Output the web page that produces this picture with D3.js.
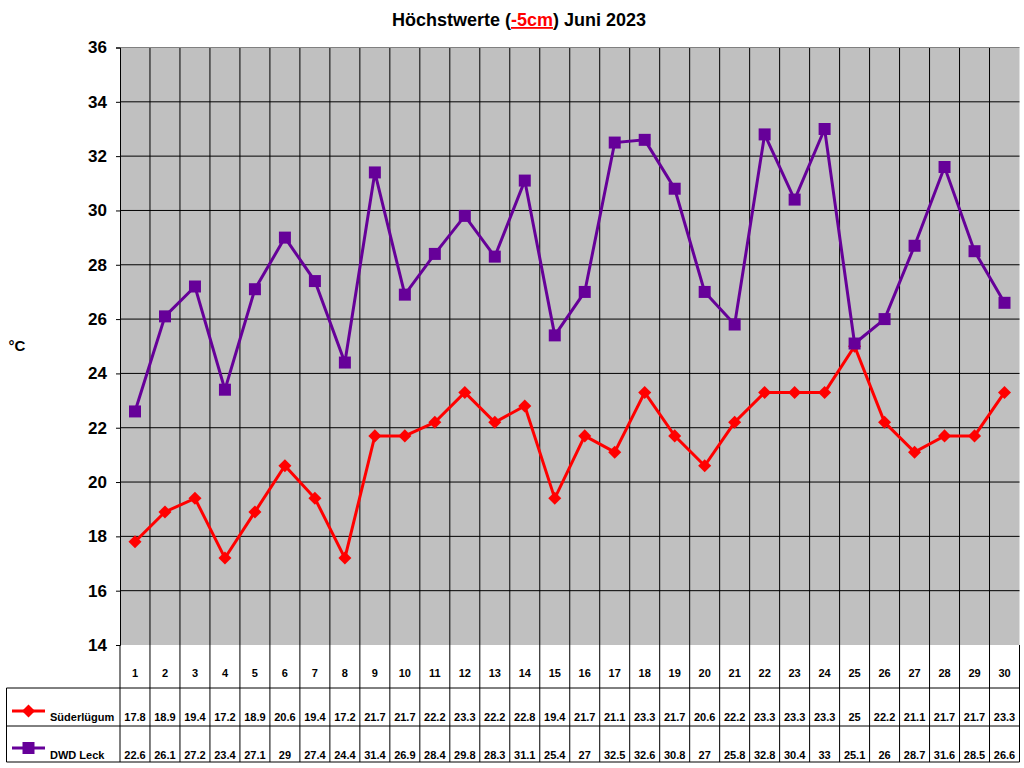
<!DOCTYPE html>
<html>
<head>
<meta charset="utf-8">
<script src="https://cdn.jsdelivr.net/npm/d3@7"></script>
<style>
  body { margin: 0; background: #fff; }
  svg { font-family: "Liberation Sans", Arial, sans-serif; font-weight: bold; }
</style>
</head>
<body>
<div id="chart"></div>
<script>
(function () {
  const days = d3.range(1, 31);
  const suederluegum = [17.8, 18.9, 19.4, 17.2, 18.9, 20.6, 19.4, 17.2, 21.7, 21.7, 22.2, 23.3, 22.2, 22.8, 19.4,
    21.7, 21.1, 23.3, 21.7, 20.6, 22.2, 23.3, 23.3, 23.3, 25, 22.2, 21.1, 21.7, 21.7, 23.3];
  const dwdLeck = [22.6, 26.1, 27.2, 23.4, 27.1, 29, 27.4, 24.4, 31.4, 26.9, 28.4, 29.8, 28.3, 31.1, 25.4,
    27, 32.5, 32.6, 30.8, 27, 25.8, 32.8, 30.4, 33, 25.1, 26, 28.7, 31.6, 28.5, 26.6];
  const yTicks = [14, 16, 18, 20, 22, 24, 26, 28, 30, 32, 34, 36];

  const w = 1024, h = 768;
  const left = 120, right = 1019.5, top = 47.5, bottom = 645;

  const svg = d3.select("#chart").append("svg")
    .attr("width", w).attr("height", h);

  const x = d3.scaleBand().domain(days).range([left, right]);
  const y = d3.scaleLinear().domain([14, 36]).range([bottom, top]);

  // plot background
  svg.append("rect")
    .attr("x", left).attr("y", top)
    .attr("width", right - left).attr("height", bottom - top)
    .attr("fill", "#c0c0c0");

  // horizontal grid
  svg.append("g").selectAll("line")
    .data(yTicks.slice(1, -1))
    .enter().append("line")
    .attr("x1", left).attr("x2", right)
    .attr("y1", d => y(d)).attr("y2", d => y(d))
    .attr("stroke", "#000").attr("stroke-width", 1);

  // vertical grid (through plot + table)
  svg.append("g").selectAll("line")
    .data(days.slice(1))
    .enter().append("line")
    .attr("x1", d => x(d)).attr("x2", d => x(d))
    .attr("y1", top).attr("y2", 762)
    .attr("stroke", "#000").attr("stroke-width", 1);

  svg.append("line")
    .attr("x1", left).attr("x2", right).attr("y1", top).attr("y2", top)
    .attr("stroke", "#808080");

  // y axis
  const yAxis = d3.axisLeft(y).tickValues(yTicks).tickSize(4).tickPadding(9);
  const ga = svg.append("g")
    .attr("transform", "translate(" + left + ",0)")
    .call(yAxis);
  ga.select(".domain").attr("stroke", "#000").attr("stroke-width", 1);
  ga.selectAll(".tick line").attr("stroke", "#000");
  ga.selectAll("text")
    .attr("font-family", "Liberation Sans, Arial, sans-serif")
    .attr("font-weight", "bold").attr("font-size", 17).attr("fill", "#000");

  svg.append("text")
    .attr("x", 17).attr("y", 351)
    .attr("text-anchor", "middle")
    .attr("font-size", 15)
    .text("°C");

  // title
  const title = svg.append("text")
    .attr("x", 519).attr("y", 26)
    .attr("text-anchor", "middle")
    .attr("font-size", 18);
  title.append("tspan").text("Höchstwerte (");
  title.append("tspan").attr("fill", "#ff0000").attr("text-decoration", "underline").text("-5cm");
  title.append("tspan").text(") Juni 2023");

  const cx = d => x(d) + x.bandwidth() / 2;

  // series (diamond = square turned 45deg)
  const series = [
    { name: "Süderlügum", values: suederluegum, color: "#ff0000", rot: 45, size: 85 },
    { name: "DWD Leck", values: dwdLeck, color: "#660099", rot: 0, size: 144 }
  ];
  const marker = s => d3.symbol().type(d3.symbolSquare).size(s.size);

  const line = d3.line().x(d => cx(d.day)).y(d => y(d.v));

  series.forEach(s => {
    const pts = days.map((d, i) => ({ day: d, v: s.values[i] }));
    svg.append("path")
      .datum(pts)
      .attr("d", line)
      .attr("fill", "none")
      .attr("stroke", s.color)
      .attr("stroke-width", 3);
    svg.append("g").selectAll("path")
      .data(pts)
      .enter().append("path")
      .attr("transform", d => "translate(" + cx(d.day) + "," + y(d.v) + ") rotate(" + s.rot + ")")
      .attr("d", marker(s))
      .attr("fill", s.color);
  });

  // data table
  const rowTop = [645, 688, 726];
  const rowBottom = 762;
  const tbl = svg.append("g");
  tbl.append("line").attr("x1", left).attr("x2", left).attr("y1", bottom).attr("y2", rowBottom).attr("stroke", "#000");
  tbl.append("line").attr("x1", right).attr("x2", right).attr("y1", bottom).attr("y2", rowBottom).attr("stroke", "#000");
  tbl.append("line").attr("x1", 6.5).attr("x2", 6.5).attr("y1", rowTop[1]).attr("y2", rowBottom).attr("stroke", "#000");
  [rowTop[1], rowTop[2], rowBottom].forEach(yy => {
    tbl.append("line").attr("x1", 6.5).attr("x2", right).attr("y1", yy).attr("y2", yy).attr("stroke", "#000");
  });

  tbl.selectAll("text.day")
    .data(days)
    .enter().append("text")
    .attr("class", "day")
    .attr("x", d => cx(d)).attr("y", 677)
    .attr("text-anchor", "middle")
    .attr("font-size", 11)
    .text(d => d);

  const rowBase = [721, 759];
  series.forEach((s, si) => {
    tbl.selectAll("text.v" + si)
      .data(s.values)
      .enter().append("text")
      .attr("class", "v" + si)
      .attr("x", (d, i) => cx(days[i])).attr("y", rowBase[si])
      .attr("text-anchor", "middle")
      .attr("font-size", 11)
      .text(d => d);

    const ky = [711, 748][si];
    tbl.append("line")
      .attr("x1", 12).attr("x2", 45).attr("y1", ky).attr("y2", ky)
      .attr("stroke", s.color).attr("stroke-width", 3);
    tbl.append("path")
      .attr("transform", "translate(28.5," + ky + ") rotate(" + s.rot + ")")
      .attr("d", marker(s))
      .attr("fill", s.color);
    tbl.append("text")
      .attr("x", 50).attr("y", rowBase[si])
      .attr("font-size", 11)
      .text(s.name);
  });
})();
</script>
</body>
</html>
